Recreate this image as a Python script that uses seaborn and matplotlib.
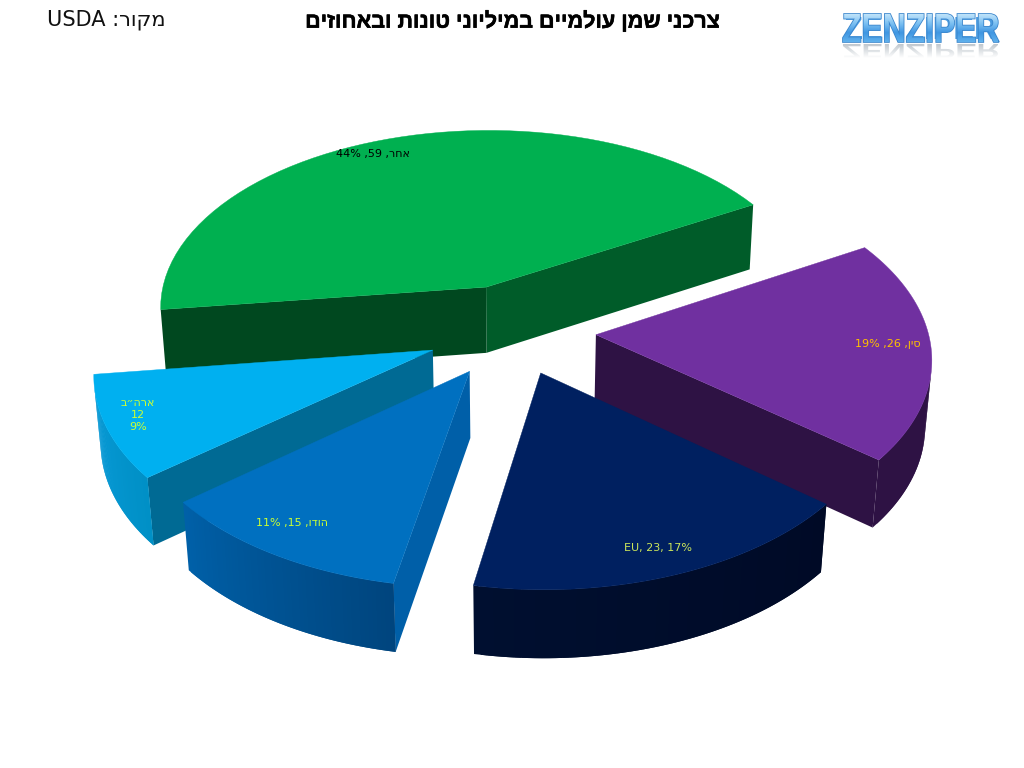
import numpy as np
import seaborn as sns
import matplotlib
matplotlib.use("Agg")
import matplotlib.pyplot as plt
import matplotlib.patheffects as pe
from matplotlib.font_manager import FontProperties
from matplotlib.patches import PathPatch
from matplotlib.path import Path
from matplotlib.textpath import TextPath
from matplotlib.transforms import Affine2D

# data, counter clockwise starting from the green slice
names = ["אחר", "ארה״ב", "הודו", "EU", "סין"]
values = [59, 12, 15, 23, 26]
percents = [44, 9, 11, 17, 19]

title = "צרכני שמן עולמיים במיליוני טונות ובאחוזים"
source_word = "מקור"
source_name = "USDA"
logo = "ZENZIPER"

top_colors = ["#00B050", "#00B0F0", "#0070C0", "#002060", "#7030A0"]
wall_start = ["#006A2E", "#0A9CDA", "#0060A8", "#000F30", "#2E1244"]
wall_end = ["#00481F", "#0090C6", "#00457E", "#000A26", "#2E1244"]
cut_start = ["#005C29", "#006A94", "#005FA8", "#000F30", "#2E1244"]  # face at the start angle of slice
cut_end = ["#00481F", "#006A94", "#005FA8", "#000F30", "#2E1244"]
label_colors = ["black", "#CCFF33", "#CCFF33", "#CCE65A", "#FFC000"]

# layout of the fake 3d pie, in pixels
explode = [0.26, 0.26, 0.25, 0.238, 0.25]
start_angle = 30
center_x, center_y = 513, 331
radius_x, radius_y = 332, 183
depth = 67
persp = 0.11
label_xy = [(373, 154), (138, 415), (292, 523), (658, 548), (888, 344)]


def rtl(s):  # matplotlib has no bidi so hebrew goes in reversed
    return s[::-1]


def project(x, y, z=0.0):
    w = 1 + persp * y + 0.016 * z
    return center_x + radius_x * x / w, center_y - radius_y * y / w + depth * z / w ** 0.7


def shoelace(pts):
    pts = np.array(pts)
    x, y = pts[:, 0], pts[:, 1]
    return np.sum(x * np.roll(y, -1) - np.roll(x, -1) * y)


def draw_face(ax, pts, color, z):
    if shoelace(pts) > 0:  # back faces are not drawn
        ax.fill(*zip(*pts), color=color, lw=0, zorder=z)


def draw_slice(ax, a0, a1, i, z):
    mid = np.radians((a0 + a1) / 2)
    ox, oy = explode[i] * np.cos(mid), explode[i] * np.sin(mid)
    angles = np.radians(np.linspace(a0, a1, 60))
    xs = ox + np.cos(angles)
    ys = oy + np.sin(angles)
    # cut faces
    draw_face(ax, [project(ox, oy), project(xs[0], ys[0]), project(xs[0], ys[0], 1), project(ox, oy, 1)], cut_start[i], z)
    draw_face(ax, [project(xs[-1], ys[-1]), project(ox, oy), project(ox, oy, 1), project(xs[-1], ys[-1], 1)], cut_end[i], z)
    # outer wall with a gradient, strips overlap the next one so no seams show
    ramp = sns.blend_palette([wall_start[i], wall_end[i]], n_colors=len(xs) - 1)
    for k in range(len(xs) - 1):
        e = min(k + 2, len(xs) - 1)
        draw_face(ax, [project(xs[k], ys[k]), project(xs[e], ys[e]),
                       project(xs[e], ys[e], 1), project(xs[k], ys[k], 1)], ramp[k], z)
    top = [project(ox, oy)] + [project(a, b) for a, b in zip(xs, ys)]
    ax.fill(*zip(*top), color=top_colors[i], lw=0.3, zorder=z + 0.5)


def draw_logo(ax):
    prop = FontProperties(family="Liberation Sans", weight="bold")
    size = 31
    x0, base = 842, 42
    box_w, box_h = 156, 28
    ax.text(x0 + 1, base - 3, logo, fontproperties=prop, fontsize=size * 0.72, color="#4A9BE0", va="baseline",
            ha="left", zorder=10)
    tp = TextPath((0, 0), logo, size=size, prop=prop)
    ext = tp.get_extents()
    sx, sy = box_w / ext.width, box_h / ext.height
    # stretched copy with a shiny gradient on the letters
    fill = Affine2D().scale(sx, -sy).translate(x0, base)
    patch = PathPatch(Path(tp.vertices, tp.codes), transform=fill + ax.transData, fc="#4A9BE0", ec="#3B86CC",
                      lw=1.2, zorder=10.5)
    ax.add_patch(patch)
    grad = np.linspace(0, 1, 64)[:, None]
    cmap = sns.blend_palette(["#BFE3FA", "#7CC0F2", "#3F96E2", "#5FB0EC"], as_cmap=True)
    img = ax.imshow(grad, cmap=cmap, extent=(x0, x0 + box_w, base, base - box_h), aspect="auto", zorder=11)
    img.set_clip_path(patch)
    # faded reflection under it
    flip = Affine2D().scale(sx, 0.5 * sy).translate(x0, base + 2)
    patch2 = PathPatch(Path(tp.vertices, tp.codes), transform=flip + ax.transData, fc="none", ec="none")
    ax.add_patch(patch2)
    rgba = np.ones((64, 1, 4)) * np.array([0.55, 0.6, 0.65, 1.0])
    rgba[:, :, 3] = np.linspace(0.55, 0.0, 64)[:, None]
    img2 = ax.imshow(rgba, extent=(x0, x0 + box_w, base + 2 + box_h * 0.5, base + 2), aspect="auto", zorder=9)
    img2.set_clip_path(patch2)


sns.set_theme(style="white")
plt.rcParams["font.family"] = ["Liberation Sans", "DejaVu Sans"]

fig = plt.figure(figsize=(10.24, 7.68), dpi=100, facecolor="white")
ax = fig.add_axes([0, 0, 1, 1])

shares = np.array(values) / np.sum(values) * 360
edges = start_angle + np.concatenate([[0], np.cumsum(shares)])
# back slices first
order = sorted(range(len(values)),
               key=lambda i: -explode[i] * np.sin(np.radians((edges[i] + edges[i + 1]) / 2)))
for n, i in enumerate(order):
    draw_slice(ax, edges[i], edges[i + 1], i, 2 + n)

for i in range(len(names)):
    if names[i] == "EU":
        label = f"{names[i]}, {values[i]}, {percents[i]}%"
    elif percents[i] < 10:
        label = f"{rtl(names[i])}\n{values[i]}\n{percents[i]}%"
    else:
        label = f"{percents[i]}% ,{values[i]} ,{rtl(names[i])}"
    ax.text(label_xy[i][0], label_xy[i][1], label, color=label_colors[i], fontsize=8, family="DejaVu Sans",
            ha="center", va="center", linespacing=1.25, zorder=20)

ax.text(512, 22, rtl(title), fontsize=15.5, fontweight="bold", color="black", ha="center", va="center",
        path_effects=[pe.withStroke(linewidth=0.4, foreground="black")])
ax.text(47, 20, f"{source_name} :{rtl(source_word)}", fontsize=15, color="#111111", ha="left", va="center",
        family=["DejaVu Sans"])

draw_logo(ax)

ax.set_xlim(0, 1024)
ax.set_ylim(768, 0)
ax.axis("off")
fig.savefig("out.png", dpi=100)
